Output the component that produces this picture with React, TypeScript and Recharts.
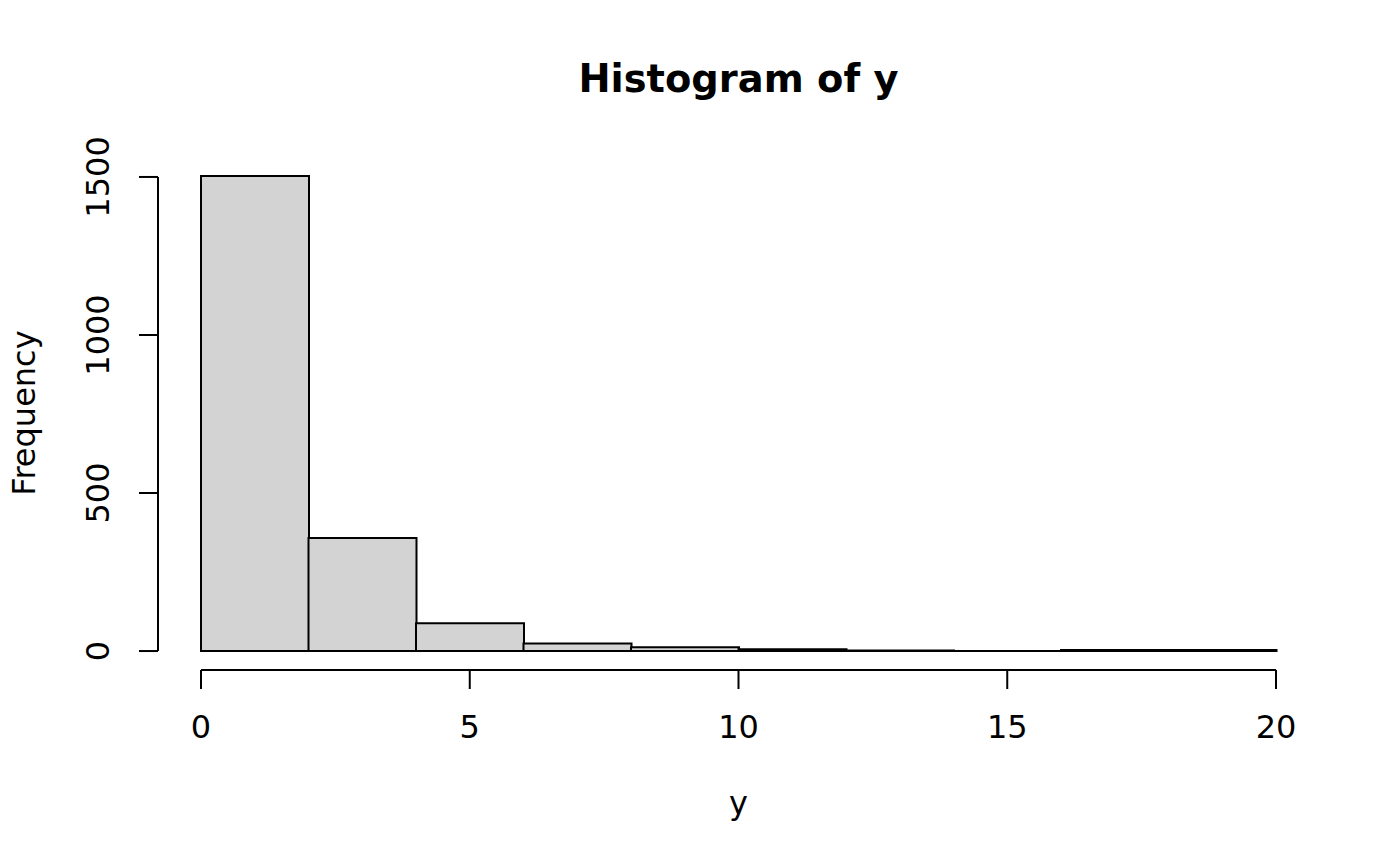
import React from 'react';
import { BarChart, Bar, XAxis, YAxis, ReferenceLine } from 'recharts';

// Histogram bins (width 2) and counts
const binLabels = ['0-2', '2-4', '4-6', '6-8', '8-10', '10-12', '12-14', '14-16', '16-18', '18-20'];
const binStarts = [0, 2, 4, 6, 8, 10, 12, 14, 16, 18];
const counts = [1503, 358, 88, 24, 12, 6, 2, 0, 3, 3];
const xTicks = [0, 5, 10, 15, 20];
const yTicks = [0, 500, 1000, 1500];

const data = binLabels.map((bin, i) => ({ bin, start: binStarts[i], count: counts[i] }));

const FONT = 'DejaVu Sans';
const FS = 32;

const HistBar = (p: any) => {
  const { x, y, width, height } = p;
  return (
    <path
      d={`M${x},${y}h${width}v${height}h${-width}Z`}
      fill="#d3d3d3"
      stroke="#000"
      strokeWidth={2}
    />
  );
};

const YTick = (p: any) => {
  const { x, y, payload } = p;
  return (
    <text
      x={x}
      y={y}
      transform={`rotate(-90 ${x} ${y})`}
      textAnchor="middle"
      fill="#000"
      fontSize={FS}
      fontFamily={FONT}
    >
      {payload.value}
    </text>
  );
};

export default function App() {
  return (
    <div style={{ position: 'absolute', left: 0, top: 0, width: 1400, height: 866, background: '#fff' }}>
      <BarChart
        width={1400}
        height={866}
        data={data}
        margin={{ top: 158, right: 81, bottom: 96, left: 8 }}
        barCategoryGap={0}
        barGap={0}
      >
        <XAxis
          xAxisId="num"
          dataKey="start"
          type="number"
          domain={[0, 20]}
          ticks={xTicks}
          padding={{ left: 43, right: 43 }}
          height={100}
          axisLine={false}
          tickLine={{ stroke: '#000', strokeWidth: 2 }}
          tickSize={19}
          tickMargin={26}
          tick={{ fill: '#000', fontSize: FS, fontFamily: FONT }}
          interval={0}
          allowDataOverflow
        />
        <XAxis xAxisId="bins" dataKey="bin" type="category" hide height={0} padding={{ left: 43, right: 43 }} />
        <YAxis
          type="number"
          domain={[-60, 1560]}
          ticks={yTicks}
          width={150}
          axisLine={false}
          tickLine={{ stroke: '#000', strokeWidth: 2 }}
          tickSize={19}
          tickMargin={30}
          tick={<YTick />}
          interval={0}
          allowDataOverflow
        />
        <Bar xAxisId="bins" dataKey="count" shape={HistBar} isAnimationActive={false} />
        <ReferenceLine
          xAxisId="num"
          segment={[{ x: 0, y: -60 }, { x: 20, y: -60 }]}
          stroke="#000"
          strokeWidth={2}
          ifOverflow="visible"
        />
        <ReferenceLine
          xAxisId="num"
          segment={[{ x: -0.8, y: 0 }, { x: -0.8, y: 1500 }]}
          stroke="#000"
          strokeWidth={2}
          ifOverflow="visible"
        />
      </BarChart>
      <svg
        width={1400}
        height={866}
        style={{ position: 'absolute', left: 0, top: 0, pointerEvents: 'none' }}
      >
        <text x={738.5} y={92} textAnchor="middle" fontFamily={FONT} fontWeight="bold" fontSize={38.4} fill="#000">
          Histogram of y
        </text>
        <text x={738.5} y={814} textAnchor="middle" fontFamily={FONT} fontSize={FS} fill="#000">
          y
        </text>
        <text
          x={35}
          y={413}
          transform="rotate(-90 35 413)"
          textAnchor="middle"
          fontFamily={FONT}
          fontSize={FS}
          fill="#000"
        >
          Frequency
        </text>
      </svg>
    </div>
  );
}
